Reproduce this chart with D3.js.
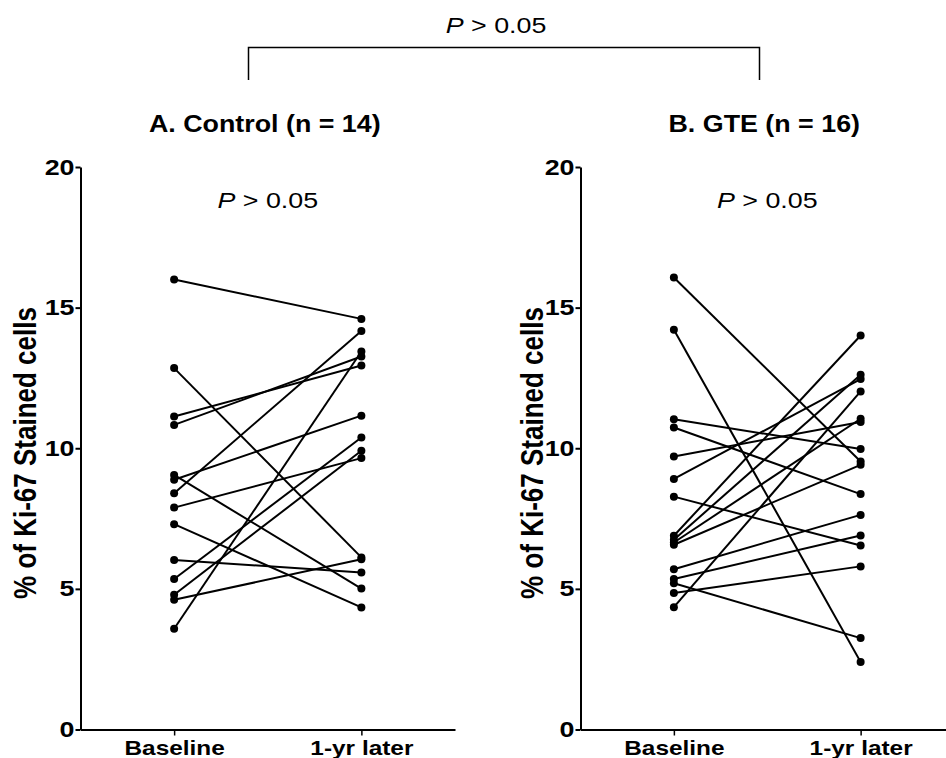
<!DOCTYPE html>
<html><head><meta charset="utf-8">
<script src="https://cdn.jsdelivr.net/npm/d3@7"></script>
<style>
body{margin:0;background:#fff}
svg{display:block}
text{font-family:"Liberation Sans",Arial,Helvetica,sans-serif;fill:#000}
</style></head>
<body><svg id="c" width="946" height="758"></svg>
<script>
// ---- data ----
const categories = ["Baseline", "1-yr later"];
const yTicks = [0, 5, 10, 15, 20];
const panelTitles = ["A. Control (n = 14)", "B. GTE (n = 16)"];
const pWithin = ["> 0.05", "> 0.05"];
const pBetween = "> 0.05";
const controlBaseline = [16.0, 12.85, 11.13, 10.83, 9.05, 8.88, 8.40, 7.89, 7.30, 6.03, 5.35, 4.79, 4.61, 3.58];
const controlLater    = [14.6, 6.12, 12.94, 13.26, 5.01, 11.16, 14.17, 9.65, 4.34, 5.58, 10.38, 9.91, 6.05, 13.44];
const gteBaseline = [16.07, 14.21, 11.03, 10.74, 9.71, 8.91, 8.28, 6.89, 6.75, 6.65, 6.57, 5.70, 5.35, 5.20, 4.85, 4.35];
const gteLater    = [9.53, 2.40, 9.97, 8.37, 10.93, 12.46, 6.54, 14.01, 12.61, 11.05, 9.41, 7.63, 6.90, 3.25, 5.80, 12.02];

// ---- drawing ----
const svg = d3.select("#c");
const SX = 1.22;
const y = d3.scaleLinear().domain([0, 20]).range([729.5, 167]);

function stretch(sel, sx, sy) {
  sy = sy || 1;
  sel.each(function () {
    const t = d3.select(this);
    const tx = +t.attr("x") || 0, ty = +t.attr("y") || 0;
    t.attr("x", 0).attr("y", 0).attr("transform", `translate(${tx},${ty}) scale(${sx},${sy})`);
  });
}

const panels = [
  { title: panelTitles[0], p: pWithin[0], base: controlBaseline, later: controlLater, range: [80.5, 455], labOff: 44.5 },
  { title: panelTitles[1], p: pWithin[1], base: gteBaseline, later: gteLater, range: [580.5, 954], labOff: 38 }
];

panels.forEach(pn => {
  const x = d3.scalePoint().domain(categories).range(pn.range).padding(0.5);
  const g = svg.append("g");
  const x0 = pn.range[0];

  // y axis
  const ya = g.append("g").attr("transform", `translate(${x0},0)`)
    .call(d3.axisLeft(y).tickValues(yTicks).tickSize(5).tickSizeOuter(0).tickPadding(1));
  ya.attr("font-size", 22).attr("font-weight", "bold");
  ya.select(".domain").attr("stroke", "#000").attr("stroke-width", 2);
  ya.selectAll(".tick line").attr("stroke", "#000").attr("stroke-width", 2);
  stretch(ya.selectAll(".tick text"), SX);

  // x axis
  const xa = g.append("g").attr("transform", `translate(0,${y(0)})`)
    .call(d3.axisBottom(x).tickSize(6).tickSizeOuter(0).tickPadding(5));
  xa.attr("font-size", 20).attr("font-weight", "bold");
  xa.select(".domain").attr("stroke", "#000").attr("stroke-width", 2);
  xa.selectAll(".tick line").attr("stroke", "#000").attr("stroke-width", 1.5);
  stretch(xa.selectAll(".tick text"), SX);

  // y label
  g.append("text")
    .attr("transform", `translate(${x0 - pn.labOff},453) rotate(-90) scale(1,${SX})`)
    .attr("text-anchor", "middle").attr("font-size", 26).attr("font-weight", "bold")
    .text("% of Ki-67 Stained cells");

  const xb = x(categories[0]), xl = x(categories[1]);
  const idx = d3.range(pn.base.length);
  g.selectAll("line.pair").data(idx).join("line").attr("class", "pair")
    .attr("x1", xb).attr("y1", i => y(pn.base[i]))
    .attr("x2", xl).attr("y2", i => y(pn.later[i]))
    .attr("stroke", "#000").attr("stroke-width", 2);
  g.selectAll("circle.b").data(idx).join("circle").attr("class", "b")
    .attr("cx", xb).attr("cy", i => y(pn.base[i])).attr("r", 4).attr("fill", "#000");
  g.selectAll("circle.l").data(idx).join("circle").attr("class", "l")
    .attr("cx", xl).attr("cy", i => y(pn.later[i])).attr("r", 4).attr("fill", "#000");

  const mid = (xb + xl) / 2;
  // within-group P
  const pt = g.append("text").attr("x", mid).attr("y", 208).attr("text-anchor", "middle").attr("font-size", 22);
  pt.append("tspan").attr("font-style", "italic").text("P");
  pt.append("tspan").text(" " + pn.p);
  stretch(pt, SX);

  // title
  const tt = g.append("text").attr("x", mid - 3).attr("y", 132).attr("text-anchor", "middle")
    .attr("font-size", 22).attr("font-weight", "bold").text(pn.title);
  stretch(tt, SX, 1.08);
});

// between-group bracket
svg.append("path").attr("d", "M248.5,80V47.5H759.5V80").attr("fill", "none")
  .attr("stroke", "#000").attr("stroke-width", 1.5);
const tp = svg.append("text").attr("x", 496).attr("y", 33).attr("text-anchor", "middle").attr("font-size", 22);
tp.append("tspan").attr("font-style", "italic").text("P");
tp.append("tspan").text(" " + pBetween);
stretch(tp, SX);
</script></body></html>
